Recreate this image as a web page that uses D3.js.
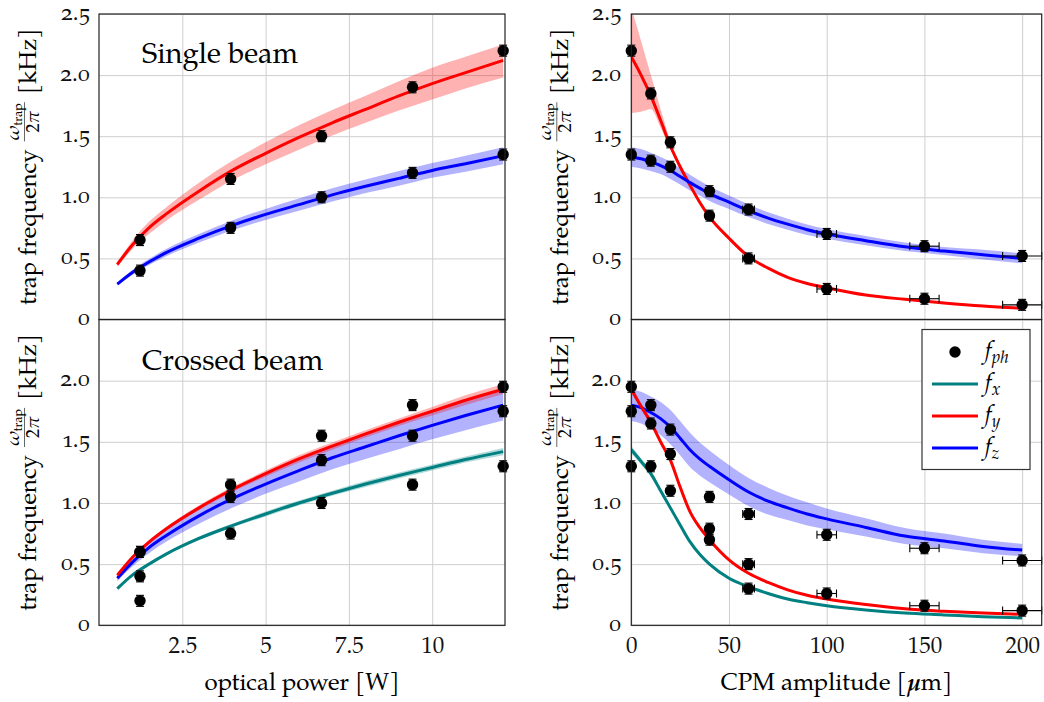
<!DOCTYPE html>
<html>
<head>
<meta charset="utf-8">
<script src="https://cdn.jsdelivr.net/npm/d3@7"></script>
<style>
  body { margin: 0; background: #fff; }
  svg { display: block; }
  .osf { font-variant-numeric: oldstyle-nums; font-feature-settings: "onum" 1; }
</style>
</head>
<body>
<div id="chart"></div>
<script>
// ---- data ----
// fit grids
var powerFit = [0.55, 1, 1.5, 2, 3, 4, 5, 6, 7, 8, 9, 10, 11, 12.13];
var cpmFit = [0, 5, 10, 15, 20, 25, 30, 35, 40, 50, 60, 70, 80, 90, 100, 120, 140, 160, 180, 200];

// single beam vs optical power
var singleFy   = [0.45, 0.61, 0.75, 0.86, 1.05, 1.22, 1.36, 1.49, 1.61, 1.72, 1.83, 1.93, 2.02, 2.12];
var singleFyLo = [0.43, 0.575, 0.70, 0.805, 0.98, 1.14, 1.27, 1.39, 1.505, 1.61, 1.71, 1.80, 1.89, 1.98];
var singleFyHi = [0.47, 0.645, 0.80, 0.915, 1.12, 1.30, 1.45, 1.59, 1.715, 1.83, 1.95, 2.06, 2.15, 2.25];
var singleFz   = [0.29, 0.385, 0.47, 0.545, 0.665, 0.77, 0.86, 0.94, 1.02, 1.09, 1.155, 1.22, 1.275, 1.34];
var singleFzLo = [0.28, 0.365, 0.445, 0.515, 0.63, 0.73, 0.815, 0.89, 0.965, 1.035, 1.095, 1.16, 1.21, 1.27];
var singleFzHi = [0.30, 0.405, 0.495, 0.575, 0.70, 0.81, 0.905, 0.99, 1.075, 1.145, 1.215, 1.28, 1.34, 1.41];

// crossed beam vs optical power
var crossFx   = [0.30, 0.41, 0.50, 0.58, 0.71, 0.815, 0.91, 1.0, 1.08, 1.155, 1.225, 1.29, 1.355, 1.42];
var crossFxLo = [0.295, 0.40, 0.49, 0.57, 0.695, 0.80, 0.89, 0.98, 1.06, 1.13, 1.20, 1.265, 1.33, 1.39];
var crossFxHi = [0.305, 0.42, 0.51, 0.59, 0.725, 0.83, 0.93, 1.02, 1.10, 1.18, 1.25, 1.315, 1.38, 1.45];
var crossFy   = [0.41, 0.555, 0.68, 0.785, 0.96, 1.11, 1.24, 1.36, 1.465, 1.565, 1.66, 1.75, 1.84, 1.93];
var crossFyLo = [0.40, 0.545, 0.665, 0.77, 0.94, 1.09, 1.215, 1.33, 1.435, 1.535, 1.63, 1.715, 1.80, 1.89];
var crossFyHi = [0.42, 0.565, 0.695, 0.80, 0.98, 1.13, 1.265, 1.39, 1.495, 1.595, 1.69, 1.785, 1.88, 1.97];
var crossFz   = [0.385, 0.515, 0.635, 0.73, 0.895, 1.035, 1.155, 1.265, 1.37, 1.46, 1.55, 1.635, 1.715, 1.80];
var crossFzLo = [0.36, 0.48, 0.59, 0.68, 0.83, 0.96, 1.075, 1.175, 1.275, 1.36, 1.44, 1.52, 1.595, 1.675];
var crossFzHi = [0.41, 0.55, 0.68, 0.78, 0.96, 1.11, 1.235, 1.355, 1.465, 1.56, 1.66, 1.75, 1.835, 1.925];

// single beam vs CPM amplitude
var sCpmFy   = [2.15, 2.0, 1.83, 1.63, 1.42, 1.25, 1.10, 0.96, 0.84, 0.665, 0.515, 0.42, 0.345, 0.295, 0.26, 0.20, 0.165, 0.135, 0.11, 0.092];
var sCpmFyLo = [1.69, 1.70, 1.72, 1.57, 1.40, 1.235, 1.085, 0.95, 0.83, 0.655, 0.508, 0.414, 0.34, 0.29, 0.256, 0.197, 0.162, 0.133, 0.108, 0.09];
var sCpmFyHi = [2.55, 2.28, 2.0, 1.72, 1.46, 1.27, 1.115, 0.97, 0.85, 0.675, 0.522, 0.426, 0.35, 0.30, 0.264, 0.203, 0.168, 0.137, 0.112, 0.094];
var sCpmFz   = [1.33, 1.315, 1.29, 1.26, 1.22, 1.17, 1.12, 1.075, 1.03, 0.96, 0.89, 0.83, 0.78, 0.735, 0.70, 0.645, 0.595, 0.56, 0.53, 0.50];
var sCpmFzLo = [1.25, 1.235, 1.215, 1.19, 1.15, 1.105, 1.055, 1.015, 0.97, 0.905, 0.838, 0.782, 0.735, 0.692, 0.66, 0.607, 0.56, 0.527, 0.49, 0.46];
var sCpmFzHi = [1.41, 1.395, 1.365, 1.33, 1.29, 1.235, 1.185, 1.135, 1.09, 1.015, 0.942, 0.878, 0.825, 0.778, 0.74, 0.683, 0.63, 0.593, 0.57, 0.54];

// crossed beam vs CPM amplitude
var cCpmFx   = [1.435, 1.34, 1.24, 1.10, 0.96, 0.82, 0.684, 0.58, 0.50, 0.385, 0.315, 0.26, 0.215, 0.185, 0.16, 0.125, 0.10, 0.085, 0.07, 0.06];
var cCpmFxLo = [1.405, 1.315, 1.215, 1.08, 0.942, 0.805, 0.672, 0.57, 0.49, 0.378, 0.309, 0.255, 0.211, 0.181, 0.157, 0.122, 0.098, 0.083, 0.068, 0.058];
var cCpmFxHi = [1.465, 1.365, 1.265, 1.12, 0.978, 0.835, 0.696, 0.59, 0.51, 0.392, 0.321, 0.265, 0.219, 0.189, 0.163, 0.128, 0.102, 0.087, 0.072, 0.062];
var cCpmFy   = [1.93, 1.79, 1.66, 1.50, 1.35, 1.13, 0.93, 0.80, 0.70, 0.535, 0.425, 0.35, 0.29, 0.245, 0.215, 0.17, 0.135, 0.115, 0.10, 0.09];
var cCpmFyLo = [1.90, 1.765, 1.635, 1.475, 1.33, 1.113, 0.915, 0.788, 0.69, 0.527, 0.418, 0.345, 0.286, 0.241, 0.212, 0.167, 0.133, 0.113, 0.098, 0.088];
var cCpmFyHi = [1.96, 1.815, 1.685, 1.525, 1.37, 1.147, 0.945, 0.812, 0.71, 0.543, 0.432, 0.355, 0.294, 0.249, 0.218, 0.173, 0.137, 0.117, 0.102, 0.092];
var cCpmFz   = [1.80, 1.78, 1.74, 1.69, 1.62, 1.53, 1.435, 1.36, 1.30, 1.19, 1.09, 1.015, 0.96, 0.91, 0.87, 0.80, 0.73, 0.69, 0.645, 0.615];
var cCpmFzLo = [1.67, 1.65, 1.61, 1.555, 1.48, 1.39, 1.295, 1.225, 1.17, 1.07, 0.975, 0.905, 0.86, 0.815, 0.785, 0.725, 0.665, 0.63, 0.59, 0.565];
var cCpmFzHi = [1.93, 1.91, 1.87, 1.825, 1.76, 1.67, 1.575, 1.495, 1.43, 1.31, 1.205, 1.125, 1.06, 1.005, 0.955, 0.875, 0.795, 0.75, 0.70, 0.665];

// measured phonon frequencies
var powerX = [1.23, 3.95, 6.68, 9.41, 12.13];
var singlePhHigh = [0.65, 1.15, 1.5, 1.9, 2.2];
var singlePhLow  = [0.4, 0.75, 1.0, 1.2, 1.35];
var crossPhHigh = [0.6, 1.15, 1.55, 1.8, 1.95];
var crossPhMid  = [0.6, 1.05, 1.35, 1.55, 1.75];
var crossPhLow  = [0.2, 0.75, 1.0, 1.15, 1.3];
var crossPhLow2 = [0.4];

var cpmX = [0, 10, 20, 40, 60, 100, 150, 200];
var cpmXErr = [0, 0.5, 1, 2, 3, 5, 7.5, 10];
var sCpmPhHigh = [2.2, 1.85, 1.45, 0.85, 0.5, 0.25, 0.17, 0.12];
var sCpmPhLow  = [1.35, 1.3, 1.25, 1.05, 0.9, 0.7, 0.6, 0.52];
var cCpmPhHigh = [1.95, 1.8, 1.6, 1.05, 0.91, 0.74, 0.63, 0.53];
var cCpmPhMid  = [1.75, 1.65, 1.4, 0.79, 0.5, 0.26, 0.16, 0.12];
var cCpmPhLow  = [1.3, 1.3, 1.1, 0.70, 0.30];

var powerTicks = [2.5, 5, 7.5, 10];
var powerTickLabels = ['2.5', '5', '7.5', '10'];
var cpmTicks = [0, 50, 100, 150, 200];
var yTicksTop = [0, 0.5, 1, 1.5, 2, 2.5];
var yTicksBottom = [0, 0.5, 1, 1.5, 2];
var yErr = 0.045;

// ---- drawing ----
var W = 1044, H = 702;
var FONT = "'TeX Gyre Pagella', 'Liberation Serif', serif";
var RED = '#ff0000', BLUE = '#0000ff', TEAL = '#008080';

var svg = d3.select('#chart').append('svg')
  .attr('width', W).attr('height', H)
  .style('font-family', FONT);

var L = {left: 99, right: 505}, R = {left: 631.3, right: 1041.7};
var TOP = {top: 14, bottom: 319.5}, BOT = {top: 319.5, bottom: 625.3};

var xPower = d3.scaleLinear().domain([0, 12.185]).range([L.left, L.right]);
var xCpm = d3.scaleLinear().domain([0, 210]).range([R.left, R.right]);
var yTop = d3.scaleLinear().domain([0, 2.5]).range([TOP.bottom, TOP.top]);
var yBot = d3.scaleLinear().domain([0, 2.5]).range([BOT.bottom, BOT.top]);

function zip(xs, ys) {
  return ys.map(function(v, i) { return [xs[i], v]; });
}

var clipId = 0;
function panel(o) {
  var x = o.x, y = o.y;
  var x0 = x.range()[0], x1 = x.range()[1], y0 = y.range()[1], y1 = y.range()[0];
  var g = svg.append('g');

  // grid + tick labels through d3 axes
  g.append('g')
    .attr('transform', 'translate(' + x0 + ',0)')
    .call(d3.axisLeft(y).tickValues(o.yTicks).tickSize(-(x1 - x0))
      .tickPadding(o.yPad)
      .tickFormat(function(d) { return d === 0 ? '0' : d3.format('.1f')(d); }))
    .call(function(a) {
      a.select('.domain').remove();
      a.selectAll('line').attr('stroke', '#cfcfcf').attr('stroke-width', 1);
      a.selectAll('text').attr('class', 'osf').attr('fill', '#111').attr('dy', '0.22em')
        .style('font-size', '23px').style('font-family', FONT);
    });
  g.append('g')
    .attr('transform', 'translate(0,' + y1 + ')')
    .call(d3.axisBottom(x).tickValues(o.xTicks).tickSize(-(y1 - y0))
      .tickPadding(11)
      .tickFormat(function(d, i) { return o.xLabels ? o.xLabels[i] : ''; }))
    .call(function(a) {
      a.select('.domain').remove();
      a.selectAll('line').attr('stroke', '#cfcfcf').attr('stroke-width', 1);
      a.selectAll('text').attr('fill', '#111').style('font-size', '23px').style('font-family', FONT);
    });

  var id = 'clip' + (clipId++);
  svg.append('clipPath').attr('id', id).append('rect')
    .attr('x', x0).attr('y', y0).attr('width', x1 - x0).attr('height', y1 - y0);
  var plot = g.append('g').attr('clip-path', 'url(#' + id + ')');

  var area = d3.area().curve(d3.curveMonotoneX)
    .x(function(d) { return x(d.x); })
    .y0(function(d) { return y(d.lo); })
    .y1(function(d) { return y(d.hi); });
  var line = d3.line().curve(d3.curveMonotoneX)
    .x(function(d) { return x(d[0]); })
    .y(function(d) { return y(d[1]); });

  o.fits.forEach(function(f) {
    var band = f.lo.map(function(v, i) { return {x: o.fitX[i], lo: v, hi: f.hi[i]}; });
    plot.append('path').attr('d', area(band))
      .attr('fill', f.color).attr('fill-opacity', 0.3).attr('stroke', 'none');
  });
  o.fits.forEach(function(f) {
    plot.append('path').attr('d', line(zip(o.fitX, f.y)))
      .attr('fill', 'none').attr('stroke', f.color).attr('stroke-width', 3);
  });

  // phonon data with error bars
  var pts = [];
  o.points.forEach(function(s) {
    s.y.forEach(function(v, i) { pts.push({x: s.x[i], y: v, ex: s.ex ? s.ex[i] : 0}); });
  });
  var eb = g.append('g').attr('stroke', '#000').attr('stroke-width', 1.1);
  pts.forEach(function(p) {
    var cx = x(p.x), ya = y(p.y + yErr), yb = y(p.y - yErr);
    eb.append('line').attr('x1', cx).attr('x2', cx).attr('y1', ya).attr('y2', yb);
    eb.append('line').attr('x1', cx - 4).attr('x2', cx + 4).attr('y1', ya).attr('y2', ya);
    eb.append('line').attr('x1', cx - 4).attr('x2', cx + 4).attr('y1', yb).attr('y2', yb);
    if (p.ex > 0) {
      var xa = x(p.x - p.ex), xb = x(p.x + p.ex), cy = y(p.y);
      eb.append('line').attr('x1', xa).attr('x2', xb).attr('y1', cy).attr('y2', cy);
      eb.append('line').attr('x1', xa).attr('x2', xa).attr('y1', cy - 4).attr('y2', cy + 4);
      eb.append('line').attr('x1', xb).attr('x2', xb).attr('y1', cy - 4).attr('y2', cy + 4);
    }
  });
  g.append('g').selectAll('circle').data(pts).join('circle')
    .attr('cx', function(d) { return x(d.x); })
    .attr('cy', function(d) { return y(d.y); })
    .attr('r', 5.7).attr('fill', '#000');

  // frame
  g.append('rect').attr('x', x0).attr('y', y0).attr('width', x1 - x0).attr('height', y1 - y0)
    .attr('fill', 'none').attr('stroke', '#222').attr('stroke-width', 1.2);

  if (o.title) {
    g.append('text').attr('x', 142).attr('y', o.titleY).text(o.title)
      .style('font-size', '29px').attr('fill', '#000');
  }
  yTitle(x0 - 63, (y0 + y1) / 2);
}

function yTitle(cx, cy) {
  var grp = svg.append('g').attr('transform', 'translate(' + cx + ',' + cy + ') rotate(-90)');
  var t1 = grp.append('text').text('trap frequency').style('font-size', '24px');
  var w1 = t1.node().getComputedTextLength();
  var num = grp.append('text').attr('y', -17).style('font-size', '19px');
  num.append('tspan').text('ω').style('font-style', 'italic');
  num.append('tspan').text('trap').style('font-size', '12.5px').attr('dy', 3);
  var den = grp.append('text').attr('y', 2.5).style('font-size', '18px');
  den.append('tspan').text('2');
  den.append('tspan').text('π').style('font-style', 'italic');
  var wn = num.node().getComputedTextLength(), wd = den.node().getComputedTextLength();
  var fw = Math.max(wn, wd) + 2;
  var t3 = grp.append('text').text('[kHz]').style('font-size', '24px');
  var w3 = t3.node().getComputedTextLength();
  var gap = 8;
  var total = w1 + gap + fw + gap + w3;
  var s = -total / 2;
  t1.attr('x', s);
  var fx = s + w1 + gap;
  num.attr('x', fx + (fw - wn) / 2);
  den.attr('x', fx + (fw - wd) / 2);
  grp.append('line').attr('x1', fx).attr('x2', fx + fw).attr('y1', -11.5).attr('y2', -11.5)
    .attr('stroke', '#000').attr('stroke-width', 0.6);
  t3.attr('x', fx + fw + gap);
}

panel({
  x: xPower, y: yTop, xTicks: powerTicks, yTicks: yTicksTop, fitX: powerFit, yPad: 9,
  fits: [
    {y: singleFy, lo: singleFyLo, hi: singleFyHi, color: RED},
    {y: singleFz, lo: singleFzLo, hi: singleFzHi, color: BLUE}
  ],
  points: [{x: powerX, y: singlePhHigh}, {x: powerX, y: singlePhLow}],
  title: 'Single beam', titleY: 63
});
panel({
  x: xCpm, y: yTop, xTicks: cpmTicks, yTicks: yTicksTop, fitX: cpmFit, yPad: 10,
  fits: [
    {y: sCpmFy, lo: sCpmFyLo, hi: sCpmFyHi, color: RED},
    {y: sCpmFz, lo: sCpmFzLo, hi: sCpmFzHi, color: BLUE}
  ],
  points: [{x: cpmX, y: sCpmPhHigh, ex: cpmXErr}, {x: cpmX, y: sCpmPhLow, ex: cpmXErr}]
});
panel({
  x: xPower, y: yBot, xTicks: powerTicks, xLabels: powerTickLabels, yTicks: yTicksBottom, fitX: powerFit, yPad: 9,
  fits: [
    {y: crossFx, lo: crossFxLo, hi: crossFxHi, color: TEAL},
    {y: crossFz, lo: crossFzLo, hi: crossFzHi, color: BLUE},
    {y: crossFy, lo: crossFyLo, hi: crossFyHi, color: RED}
  ],
  points: [{x: powerX, y: crossPhHigh}, {x: powerX, y: crossPhMid}, {x: powerX, y: crossPhLow},
           {x: powerX, y: crossPhLow2}],
  title: 'Crossed beam', titleY: 370
});
panel({
  x: xCpm, y: yBot, xTicks: cpmTicks, xLabels: cpmTicks.map(String), yTicks: yTicksBottom, fitX: cpmFit, yPad: 10,
  fits: [
    {y: cCpmFz, lo: cCpmFzLo, hi: cCpmFzHi, color: BLUE},
    {y: cCpmFx, lo: cCpmFxLo, hi: cCpmFxHi, color: TEAL},
    {y: cCpmFy, lo: cCpmFyLo, hi: cCpmFyHi, color: RED}
  ],
  points: [{x: cpmX, y: cCpmPhHigh, ex: cpmXErr}, {x: cpmX, y: cCpmPhMid, ex: cpmXErr},
           {x: cpmX, y: cCpmPhLow, ex: cpmXErr}]
});

// x axis titles
svg.append('text').attr('x', (L.left + L.right) / 2).attr('y', 690).attr('text-anchor', 'middle')
  .style('font-size', '24px').text('optical power [W]');
var xt = svg.append('text').attr('x', (R.left + R.right) / 2).attr('y', 690).attr('text-anchor', 'middle')
  .style('font-size', '24px');
xt.append('tspan').text('CPM amplitude [');
xt.append('tspan').text('μ').style('font-style', 'italic').style('font-weight', 'bold');
xt.append('tspan').text('m]');

// legend
var leg = svg.append('g');
leg.append('rect').attr('x', 922).attr('y', 329.5).attr('width', 108).attr('height', 140)
  .attr('fill', '#fff').attr('stroke', '#333').attr('stroke-width', 1.2);
var legItems = [
  {sub: 'ph', color: null},
  {sub: 'x', color: TEAL},
  {sub: 'y', color: RED},
  {sub: 'z', color: BLUE}
];
var legY = d3.scalePoint().domain(d3.range(legItems.length)).range([352, 448]);
legItems.forEach(function(it, i) {
  var cy = legY(i);
  if (it.color) {
    leg.append('line').attr('x1', 932).attr('x2', 978).attr('y1', cy).attr('y2', cy)
      .attr('stroke', it.color).attr('stroke-width', 3);
  } else {
    leg.append('circle').attr('cx', 955).attr('cy', cy).attr('r', 5.7).attr('fill', '#000');
  }
  var t = leg.append('text').attr('x', 985).attr('y', cy + 6).style('font-size', '24px')
    .style('font-style', 'italic');
  t.append('tspan').text('f');
  t.append('tspan').text(it.sub).style('font-size', '17px').attr('dy', 5);
});
</script>
</body>
</html>
